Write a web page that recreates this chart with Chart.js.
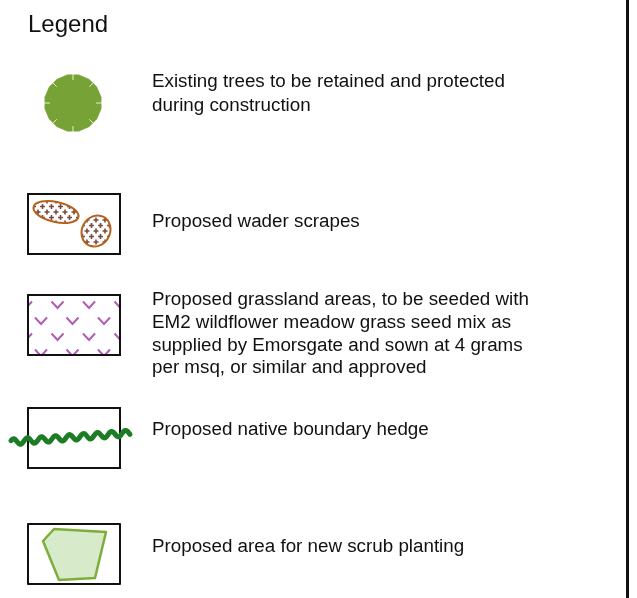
<!DOCTYPE html>
<html>
<head>
<meta charset="utf-8">
<script src="https://cdn.jsdelivr.net/npm/chart.js@4/dist/chart.umd.min.js"></script>
<style>
  html, body { margin: 0; padding: 0; background: #fff; }
  canvas { display: block; }
</style>
</head>
<body>
<canvas id="legendChart" width="637" height="598"></canvas>
<script>
// legend entries, top to bottom
const entries = ['trees', 'wader', 'grassland', 'hedge', 'scrub']
const labels = [
    ['Existing trees to be retained and protected', 'during construction'],
    ['Proposed wader scrapes'],
    ['Proposed grassland areas, to be seeded with', 'EM2 wildflower meadow grass seed mix as',
     'supplied by Emorsgate and sown at 4 grams', 'per msq, or similar and approved'],
    ['Proposed native boundary hedge'],
    ['Proposed area for new scrub planting']
]
// row positions (symbol centre / first text line) on the y scale
const symbolRows = [103, 224, 325, 438, 554]
const textRows = [82, 222, 300, 430, 547]
const symbolCol = 73
const textCol = 152

const FONT = '"Liberation Sans", Arial, sans-serif'

function box(ctx, x, y) {
    ctx.strokeStyle = '#111'
    ctx.lineWidth = 2
    ctx.strokeRect(x - 45, y - 30, 92, 60)
}

let symbols = {
    trees(ctx, x, y) {
        let r = 29
        ctx.fillStyle = '#77a236'
        ctx.beginPath()
        for (let i = 0; i < 16; i++) {
            let a = i * Math.PI / 8 + Math.PI / 16
            ctx.lineTo(x + r * Math.cos(a), y + r * Math.sin(a))
        }
        ctx.closePath()
        ctx.fill()
        ctx.strokeStyle = 'rgba(255,255,255,0.8)'
        ctx.lineWidth = 1
        for (let i = 0; i < 8; i++) {
            let a = i * Math.PI / 4
            ctx.beginPath()
            ctx.moveTo(x + (r - 6) * Math.cos(a), y + (r - 6) * Math.sin(a))
            ctx.lineTo(x + (r + 2) * Math.cos(a), y + (r + 2) * Math.sin(a))
            ctx.stroke()
        }
    },
    wader(ctx, x, y) {
        box(ctx, x, y)
        let blobs = [[x - 17, y - 12, 23, 10, 0.22], [x + 23, y + 7, 14, 16, 0.5]]
        blobs.forEach(b => {
            ctx.save()
            ctx.beginPath()
            ctx.ellipse(b[0], b[1], b[2], b[3], b[4], 0, Math.PI * 2)
            ctx.fillStyle = '#fff'
            ctx.fill()
            ctx.clip()
            ctx.strokeStyle = '#7b4a3c'
            ctx.lineWidth = 1.6
            for (let j = -6; j <= 6; j++) {
                for (let i = -6; i <= 6; i++) {
                    let px = b[0] + i * 9 + (j % 2 ? 4.5 : 0)
                    let py = b[1] + j * 5.5
                    ctx.beginPath()
                    ctx.moveTo(px - 2.5, py); ctx.lineTo(px + 2.5, py)
                    ctx.moveTo(px, py - 2.5); ctx.lineTo(px, py + 2.5)
                    ctx.stroke()
                }
            }
            ctx.restore()
            ctx.beginPath()
            ctx.ellipse(b[0], b[1], b[2], b[3], b[4], 0, Math.PI * 2)
            ctx.strokeStyle = '#b5621c'
            ctx.lineWidth = 2
            ctx.stroke()
        })
    },
    grassland(ctx, x, y) {
        ctx.save()
        ctx.beginPath()
        ctx.rect(x - 45, y - 30, 92, 60)
        ctx.clip()
        ctx.strokeStyle = '#b25db4'
        ctx.lineWidth = 2
        for (let j = 0; j < 4; j++) {
            let vy = y - 20 + j * 16
            let off = j % 2 ? 0 : -15
            for (let i = -2; i < 4; i++) {
                let vx = x - 32 + off + i * 31.5
                ctx.beginPath()
                ctx.moveTo(vx - 6, vy - 3.5)
                ctx.lineTo(vx, vy + 3)
                ctx.lineTo(vx + 6, vy - 3.5)
                ctx.stroke()
            }
        }
        ctx.restore()
        box(ctx, x, y)
    },
    hedge(ctx, x, y) {
        box(ctx, x, y)
        ctx.strokeStyle = '#1c7d25'
        ctx.lineWidth = 5
        ctx.lineCap = 'round'
        ctx.lineJoin = 'round'
        ctx.beginPath()
        for (let px = x - 62; px <= x + 57; px += 1) {
            let t = (px - (x - 62)) / 119
            let py = y + 4 - t * 9 + 3 * Math.sin((px - x) * 2 * Math.PI / 14)
            ctx.lineTo(px, py)
        }
        ctx.stroke()
        ctx.lineCap = 'butt'
    },
    scrub(ctx, x, y) {
        box(ctx, x, y)
        let pts = [[-19, -25], [33, -22], [22, 24], [-14, 26], [-30, -13]]
        ctx.beginPath()
        pts.forEach(p => ctx.lineTo(x + p[0], y + p[1]))
        ctx.closePath()
        ctx.fillStyle = '#d7eac9'
        ctx.fill()
        ctx.strokeStyle = '#7dae3b'
        ctx.lineWidth = 2.5
        ctx.stroke()
    }
}

let legendArt = {
    id: 'legendArt',
    afterDatasetsDraw(chart) {
        let ctx = chart.ctx
        ctx.save()
        // title
        ctx.fillStyle = '#111'
        ctx.font = '24px ' + FONT
        ctx.textBaseline = 'alphabetic'
        ctx.fillText('Legend', 28, 32)
        // right frame line
        ctx.fillStyle = '#111'
        ctx.fillRect(626, 0, 3, 598)

        let symMeta = chart.getDatasetMeta(0)
        let txtMeta = chart.getDatasetMeta(1)
        entries.forEach((name, i) => {
            let p = symMeta.data[i]
            symbols[name](ctx, p.x, p.y)
            let t = txtMeta.data[i]
            ctx.fillStyle = '#111'
            ctx.font = '18.8px ' + FONT
            ctx.textBaseline = 'middle'
            let step = i === 0 ? 24 : 22.7
            labels[i].forEach((line, k) => {
                ctx.fillText(line, t.x, t.y + k * step)
            })
        })
        ctx.restore()
    }
}

let ctx = document.getElementById('legendChart').getContext('2d')
let legendChart = new Chart(ctx, {
    type: 'scatter',
    data: {
        datasets: [{
            label: 'symbols',
            data: symbolRows.map(r => ({ x: symbolCol, y: r })),
            pointRadius: 0
        }, {
            label: 'text',
            data: textRows.map(r => ({ x: textCol, y: r })),
            pointRadius: 0
        }]
    },
    options: {
        responsive: false,
        animation: false,
        layout: { padding: 0 },
        plugins: {
            legend: { display: false },
            tooltip: { enabled: false }
        },
        scales: {
            x: { type: 'linear', min: 0, max: 637, display: false },
            y: { type: 'linear', min: 0, max: 598, reverse: true, display: false }
        }
    },
    plugins: [legendArt]
})
</script>
</body>
</html>
